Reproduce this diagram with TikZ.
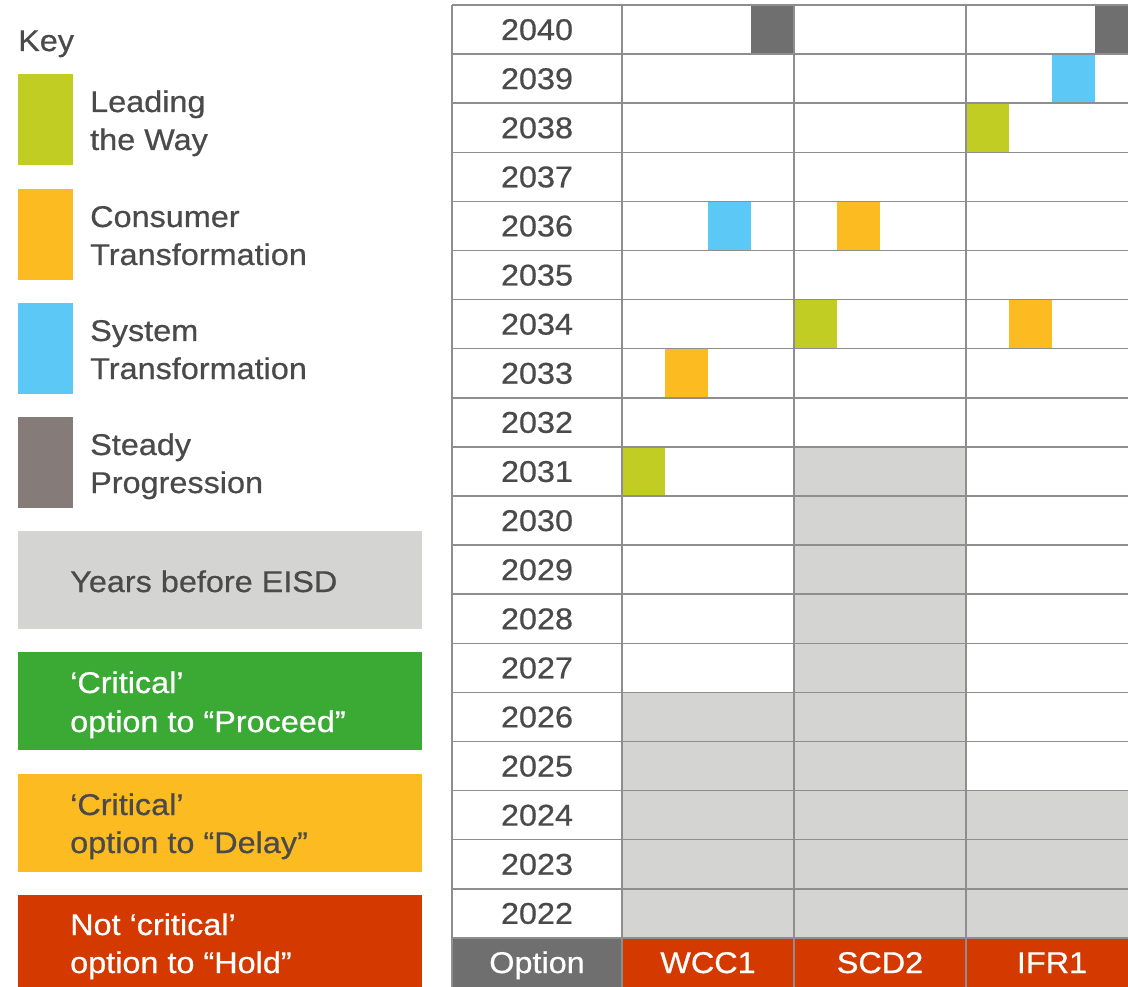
\documentclass[tikz,border=0pt]{standalone}
\usepackage{fontspec}
\setmainfont{Liberation Sans}[FakeStretch=1.08, FakeBold=0.6]
\definecolor{txt}{HTML}{4A4A4A}
\definecolor{lgreen}{HTML}{C2CD23}
\definecolor{lorange}{HTML}{FDBB22}
\definecolor{lblue}{HTML}{5BC8F5}
\definecolor{lgray}{HTML}{857C7A}
\definecolor{dgray}{HTML}{6F6F6F}
\definecolor{eisdgray}{HTML}{D4D4D3}
\definecolor{kgreen}{HTML}{3AAA35}
\definecolor{kred}{HTML}{D43A00}
\definecolor{gridc}{HTML}{8E8E8E}
\newcommand\cellblock[4]{\fill[#4] ({#1+#2*43},{5+#3*49.1}) rectangle ++(43,49.1);}
\begin{document}
\begin{tikzpicture}[x=1pt,y=-1pt,
  every node/.style={font=\fontsize{30}{38}\selectfont, text=txt, inner sep=0pt},
  lbl/.style={anchor=base west},
  wlbl/.style={anchor=base west, text=white},
  yr/.style={anchor=base},
  hdr/.style={anchor=base, text=white},
  gridline/.style={draw=gridc, line width=1.5pt},
  keysq/.style={anchor=north west, minimum width=55pt, minimum height=91pt},
  keybox/.style={anchor=north west, minimum width=404pt}]
\useasboundingbox (0,0) rectangle (1128,987);
\fill[white] (0,0) rectangle (1128,987);

% ---------- Legend ----------
\node[lbl] (key) at (18,51) {Key};
\node[keysq, fill=lgreen] (sqLead) at (18,74) {};
\node[lbl] (tLead1) at (90,112) {Leading};
\node[lbl] (tLead2) at (90,150) {the Way};
\node[keysq, fill=lorange] (sqCons) at (18,189) {};
\node[lbl] (tCons1) at (90,227) {Consumer};
\node[lbl] (tCons2) at (90,265) {Transformation};
\node[keysq, fill=lblue] (sqSys) at (18,303) {};
\node[lbl] (tSys1) at (90,341) {System};
\node[lbl] (tSys2) at (90,379) {Transformation};
\node[keysq, fill=lgray] (sqSteady) at (18,417) {};
\node[lbl] (tSteady1) at (90,455) {Steady};
\node[lbl] (tSteady2) at (90,493) {Progression};

\node[keybox, fill=eisdgray, minimum height=98pt] (bxEisd) at (18,531) {};
\node[lbl] (tEisd) at (70,592) {Years before EISD};
\node[keybox, fill=kgreen, minimum height=98pt] (bxProc) at (18,652) {};
\node[wlbl] (tProc1) at (70,693) {‘Critical’};
\node[wlbl] (tProc2) at (70,732) {option to “Proceed”};
\node[keybox, fill=lorange, minimum height=98pt] (bxDelay) at (18,774) {};
\node[lbl] (tDelay1) at (70,815) {‘Critical’};
\node[lbl] (tDelay2) at (70,853) {option to “Delay”};
\node[keybox, fill=kred, minimum height=92pt] (bxHold) at (18,895) {};
\node[wlbl] (tHold1) at (70,935) {Not ‘critical’};
\node[wlbl] (tHold2) at (70,973) {option to “Hold”};

% ---------- Grid shading ----------
\fill[eisdgray] (622,{5+14*49.1}) rectangle (794,{5+19*49.1});
\fill[eisdgray] (794,{5+9*49.1}) rectangle (966,{5+19*49.1});
\fill[eisdgray] (966,{5+16*49.1}) rectangle (1128,{5+19*49.1});

% ---------- Coloured blocks ----------
% WCC1
\cellblock{622}{0}{9}{lgreen}
\cellblock{622}{1}{7}{lorange}
\cellblock{622}{2}{4}{lblue}
\cellblock{622}{3}{0}{dgray}
% SCD2
\cellblock{794}{0}{6}{lgreen}
\cellblock{794}{1}{4}{lorange}
% IFR1
\cellblock{966}{0}{2}{lgreen}
\cellblock{966}{1}{6}{lorange}
\cellblock{966}{2}{1}{lblue}
\cellblock{966}{3}{0}{dgray}

% ---------- Option row ----------
\fill[dgray] (452,{5+19*49.1}) rectangle (622,987);
\fill[kred] (622,{5+19*49.1}) rectangle (1128,987);

% ---------- Grid lines ----------
\foreach \i in {0,...,19} {
  \draw[gridline] (452,{5+\i*49.1}) -- (1128,{5+\i*49.1});
}
\foreach \x in {452,622,794,966} {
  \draw[gridline] (\x,5) -- (\x,987);
}

% ---------- Year labels ----------
\foreach \i in {0,...,18} {
  \pgfmathtruncatemacro\yr{2040-\i}
  \node[yr] (y\yr) at (537,{5+\i*49.1+35}) {\yr};
}

% ---------- Header ----------
\node[hdr] (hOption) at (537,973) {Option};
\node[hdr] (hWCC) at (708,973) {WCC1};
\node[hdr] (hSCD) at (880,973) {SCD2};
\node[hdr] (hIFR) at (1052,973) {IFR1};
\end{tikzpicture}
\end{document}
